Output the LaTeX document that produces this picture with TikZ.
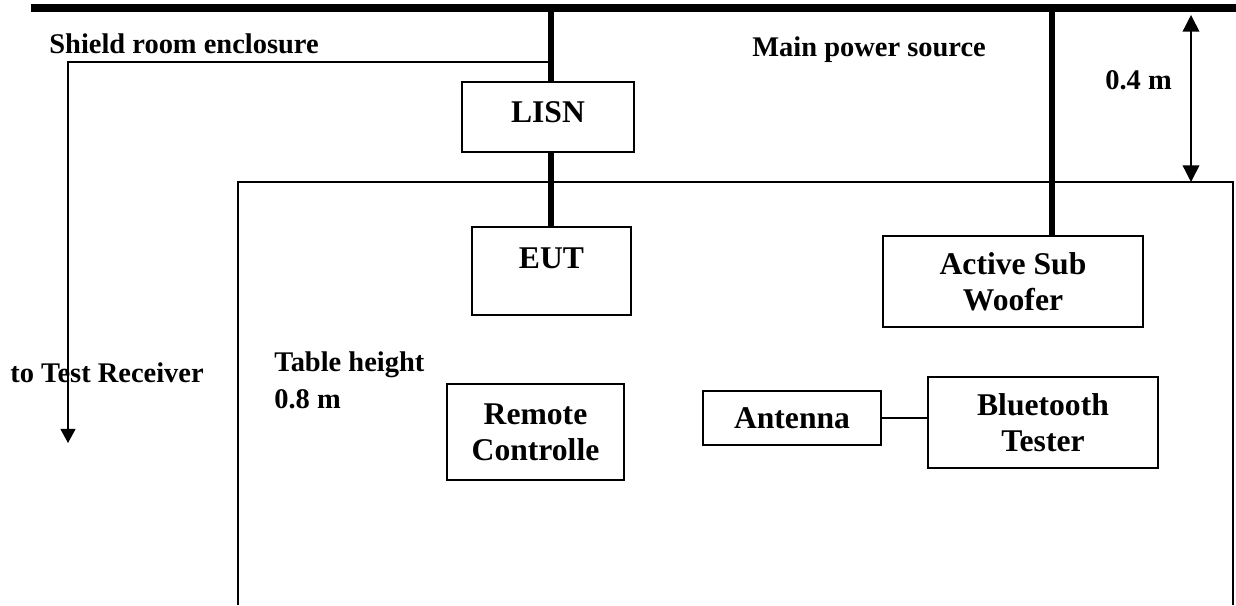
\documentclass[tikz,border=0pt]{standalone}
\usepackage{fontspec}
\setmainfont{Liberation Serif}
\usetikzlibrary{arrows.meta,positioning}
\tikzset{unit/.style={draw,line width=1pt,align=center,font=\fontsize{18}{20.5}\selectfont\bfseries,inner sep=0pt},
         lbl/.style={font=\fontsize{16.2}{21.5}\selectfont\bfseries,align=left,inner sep=0pt},
         power/.style={line width=3.4pt},
         thin/.style={line width=0.85pt}}

\begin{document}
\begin{tikzpicture}[x=0.02cm,y=-0.02cm]
                    \useasboundingbox (0,0) rectangle (1236,605);
                    % mains bar and table
                    \draw[line width=4.5pt] (31,8) coordinate (barl) -- (1236,8) coordinate (barr);
                    \draw[thin] (238,605) |- (1233,182) coordinate (tabr) -- (1233,605);
                    % equipment
                    \node[unit,minimum width=3.44cm,minimum height=1.4cm,text depth=6pt] (lisn) at (548,117) {LISN};
                    \node[unit,minimum width=3.18cm,minimum height=1.76cm,text depth=15pt] (eut) at (551.5,271) {EUT};
                    \node[unit,minimum width=5.2cm,minimum height=1.82cm] (sub) at (1013,281.5) {Active Sub\\Woofer};
                    \node[unit,minimum width=3.54cm,minimum height=1.92cm] (remote) at (535.5,432) {Remote\\Controlle};
                    \node[unit,minimum width=3.56cm,minimum height=1.08cm] (ant) at (792,418) {Antenna};
                    \node[unit,minimum width=4.6cm,minimum height=1.82cm] (bt) at (1043,422.5) {Bluetooth\\Tester};
                    % labels
                    \node[lbl,anchor=base west] (shield) at (49,53) {Shield room enclosure};
                    \node[lbl,anchor=base west] (mains) at (752,56) {Main power source};
                    \node[lbl,anchor=base west] (dist) at (1105,89) {0.4 m};
                    \node[lbl,anchor=north west] (tabh) at (274,351) {Table height\\0.8 m};
                    \node[lbl,anchor=base west] (recv) at (10,382) {to Test Receiver};
                    % connections
                    \coordinate (feed) at (551,8);
                    \coordinate (src) at (1052,8);
                    \coordinate (rx) at (68,443);
                    \coordinate (dtop) at (1191,15);
                    \draw[power] (feed) -- (feed |- lisn.north);
                    \draw[power] (feed |- lisn.south) -- (feed |- eut.north);
                    \draw[power] (src) -- (src |- sub.north);
                    \draw[thin,-{Triangle[width=8.5pt,length=8pt]}] (feed |- 0,62) -| (rx);
                    \draw[thin] (ant.east) -- (ant.east -| bt.west);
                    \draw[thin,{Triangle[width=9.5pt,length=9.5pt]}-{Triangle[width=9.5pt,length=9.5pt]}] (dtop) -- (dtop |- tabr);
                \end{tikzpicture}
\end{document}
